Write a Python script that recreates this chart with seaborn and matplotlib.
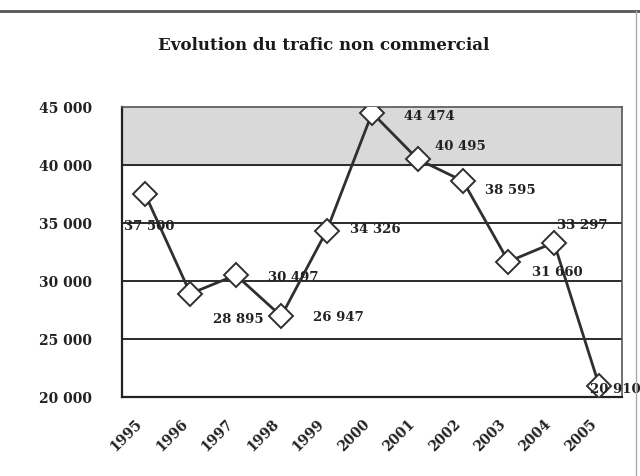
"""
Evolution du trafic non commercial - line chart with data labels.
"""
import matplotlib
matplotlib.use("Agg")
import matplotlib.pyplot as plt
import seaborn as sns
import pandas as pd
from matplotlib.lines import Line2D

# ---------------------------------------------------------
# Data
# ---------------------------------------------------------
years = ["1995", "1996", "1997", "1998", "1999", "2000",
         "2001", "2002", "2003", "2004", "2005"]
trafic = [37500, 28895, 30497, 26947, 34326, 44474,
          40495, 38595, 31660, 33297, 20910]
labels = ["37 500", "28 895", "30 497", "26 947", "34 326", "44 474",
          "40 495", "38 595", "31 660", "33 297", "20 910"]
# label offsets (pixels) relative to each marker, as placed in the original
label_dx = [4, 48, 57, 57, 49, 57, 43, 47, 49, 28, 16]
label_dy = [-32, -25, -1, 0, 2, -3, 14, -8, -10, 18, -2]
y_ticks = [20000, 25000, 30000, 35000, 40000, 45000]
y_ticklabels = ["20 000", "25 000", "30 000", "35 000", "40 000", "45 000"]

df = pd.DataFrame({"pos": range(len(years)), "trafic": trafic})

# ---------------------------------------------------------
# Plot
# ---------------------------------------------------------
sns.set_style("white")
plt.rcParams["font.family"] = ["DejaVu Serif"]
plt.rcParams["font.weight"] = "bold"

fig = plt.figure(figsize=(6.4, 4.77), dpi=100)
ax = fig.add_axes([0.191, 0.166, 0.781, 0.608])

ax.axhspan(40000, 45000, color="#d9d9d9", zorder=0)
for yv in y_ticks[1:-1]:
    ax.axhline(yv, color="#2a2a2a", lw=1.4, zorder=1)

sns.lineplot(data=df, x="pos", y="trafic", ax=ax, color="#2f2f2f", lw=2.0,
             marker="D", markersize=12, markerfacecolor="white",
             markeredgecolor="#2f2f2f", markeredgewidth=1.4, zorder=3)

for i, (v, txt) in enumerate(zip(trafic, labels)):
    ax.annotate(txt, (i, v), xytext=(label_dx[i], label_dy[i]),
                textcoords="offset pixels", ha="center", va="center",
                fontsize=9.5, fontweight="bold", color="#222222", zorder=4)

ax.set_xlim(-0.5, len(years) - 0.5)
ax.set_ylim(20000, 45000)
ax.set_yticks(y_ticks)
ax.set_yticklabels(y_ticklabels, fontsize=10, fontweight="bold", color="#222222")

# category axis: ticks between categories, labels at centres
ax.set_xticks([i - 0.5 for i in range(len(years) + 1)])
ax.set_xticklabels([])
ax.set_xticks(range(len(years)), minor=True)
ax.set_xticklabels(years, minor=True, rotation=45, ha="right",
                   fontsize=10, fontweight="bold", color="#222222")
ax.tick_params(axis="x", which="major", length=4, direction="out", color="#333333")
ax.tick_params(axis="x", which="minor", length=0, pad=14)
ax.tick_params(axis="y", length=4, direction="out", pad=18, color="#333333")
ax.set_xlabel("")
ax.set_ylabel("")

for side in ["left", "bottom"]:
    ax.spines[side].set_color("#222222")
    ax.spines[side].set_linewidth(1.6)
for side in ["top", "right"]:
    ax.spines[side].set_color("#555555")
    ax.spines[side].set_linewidth(1.2)

fig.text(0.506, 0.905, "Evolution du trafic non commercial", ha="center",
         va="center", fontsize=12, fontweight="bold", color="#1a1a1a")

# page border lines from the scan
fig.add_artist(Line2D([0.0, 1.0], [0.975, 0.975], color="#555555", lw=2.0))
fig.add_artist(Line2D([0.994, 0.994], [0.0, 0.975], color="#aaaaaa", lw=1.0))

fig.savefig("out.png", dpi=100, facecolor="white")
